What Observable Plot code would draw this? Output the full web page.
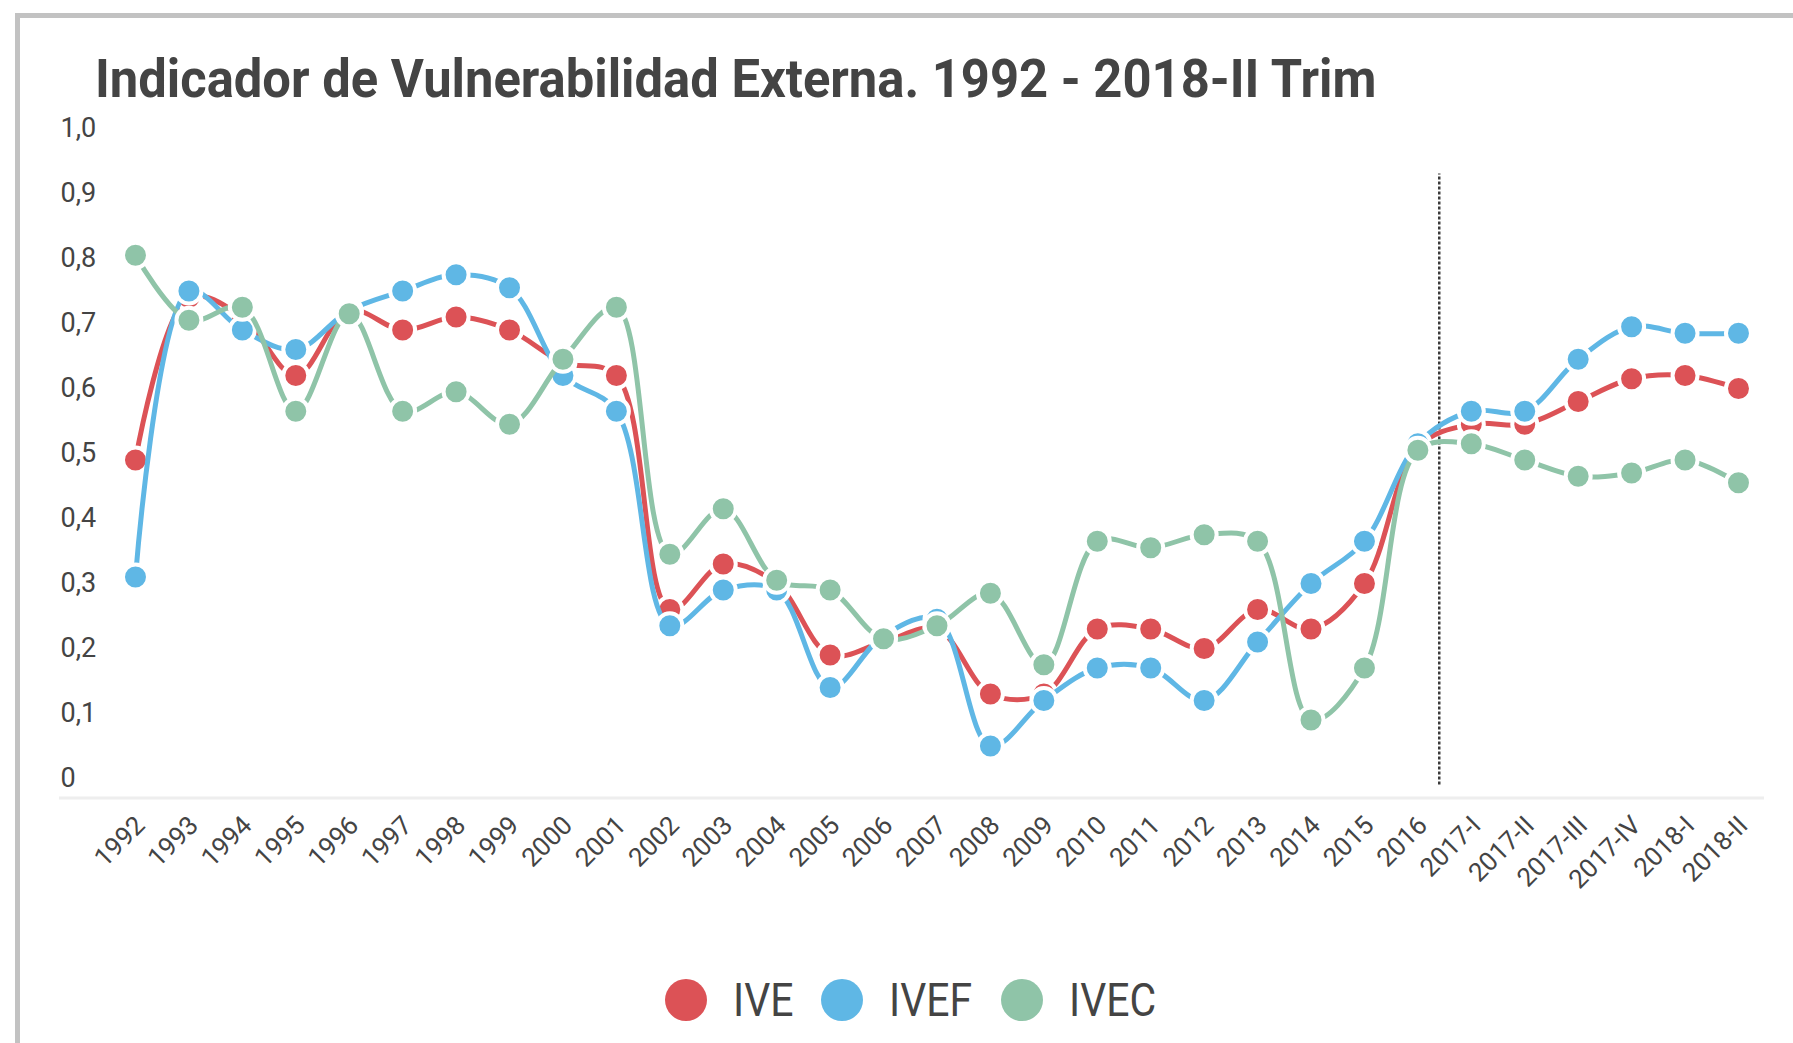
<!DOCTYPE html>
<html>
<head>
<meta charset="utf-8">
<script src="https://cdn.jsdelivr.net/npm/d3@7"></script>
<script src="https://cdn.jsdelivr.net/npm/@observablehq/plot@0.6"></script>
<style>
  html, body { margin: 0; padding: 0; background: #fff; }
  #page { position: relative; width: 1793px; height: 1043px; overflow: hidden; background: #fff; font-family: Roboto, "Noto Sans", sans-serif; }
  #border { position: absolute; left: 15px; top: 13px; right: -20px; bottom: -20px; border-left: 5px solid #c2c2c2; border-top: 5px solid #c2c2c2; }
  #title { position: absolute; left: 95px; top: 53px; font-size: 53px; line-height: 1; font-weight: 700; color: #444; white-space: nowrap; transform: scaleX(0.957); transform-origin: left center; }
  #chart { position: absolute; left: 0; top: 110px; }
  #legend { position: absolute; left: 665px; top: 977px; display: flex; align-items: center; font-size: 46px; color: #444; line-height: 1; }
  .sw { width: 42px; height: 42px; border-radius: 50%; margin-right: 26px; flex: none; }
  .lab { margin-right: 28px; display: inline-block; white-space: nowrap; }
  .lab span { display: inline-block; transform: scaleX(0.89); transform-origin: left center; }
</style>
</head>
<body>
<div id="page">
  <div id="border"></div>
  <div id="title">Indicador de Vulnerabilidad Externa. 1992 - 2018-II Trim</div>
  <div id="chart"></div>
  <div id="legend"></div>
</div>
<script>
// ---- Data ----
const categories = ["1992","1993","1994","1995","1996","1997","1998","1999","2000","2001","2002","2003","2004","2005","2006","2007","2008","2009","2010","2011","2012","2013","2014","2015","2016","2017-I","2017-II","2017-III","2017-IV","2018-I","2018-II"];
const IVE  = [0.49,0.74,0.71,0.62,0.72,0.69,0.71,0.69,0.64,0.62,0.26,0.33,0.30,0.19,0.21,0.23,0.13,0.13,0.23,0.23,0.20,0.26,0.23,0.30,0.51,0.545,0.545,0.58,0.615,0.62,0.60];
const IVEF = [0.31,0.75,0.69,0.66,0.72,0.75,0.775,0.755,0.62,0.565,0.235,0.29,0.29,0.14,0.22,0.245,0.05,0.12,0.17,0.17,0.12,0.21,0.30,0.365,0.515,0.565,0.565,0.645,0.695,0.685,0.685];
const IVEC = [0.805,0.705,0.725,0.565,0.715,0.565,0.595,0.545,0.645,0.725,0.345,0.415,0.305,0.29,0.215,0.235,0.285,0.175,0.365,0.355,0.375,0.365,0.09,0.17,0.505,0.515,0.49,0.465,0.47,0.49,0.455];
const seriesNames = ["IVE","IVEF","IVEC"];
const seriesColors = ["#dc5256","#5fb7e5","#8fc4a8"];
const yTicks = [0,0.1,0.2,0.3,0.4,0.5,0.6,0.7,0.8,0.9,1.0];
const separatorAt = 24.4; // between 2016 and 2017-I

const seriesValues = [IVE, IVEF, IVEC];
const rows = seriesNames.map((name, s) => seriesValues[s].map((v, i) => ({i, v, series: name, cat: categories[i]})));

const yMin = -0.03;
const fmtY = d => d === 0 ? "0" : d.toFixed(1).replace(".", ",");

const marks = [
  Plot.ruleY([yMin], {stroke: "#eeeeee", strokeWidth: 3}),
  Plot.ruleX([separatorAt], {y1: -0.01, y2: 0.93, stroke: "#3a3a3a", strokeWidth: 2.5, strokeDasharray: "3,2"}),
  Plot.axisY(yTicks, {anchor: "left", label: null, tickSize: 0, tickPadding: 0, textAnchor: "start", dx: 1, tickFormat: fmtY, fontSize: 27, fill: "#444"}),
  Plot.axisX(d3.range(categories.length), {anchor: "bottom", label: null, tickSize: 0, tickPadding: 23, dx: 5, tickRotate: -45, textAnchor: "end", lineAnchor: "middle", tickFormat: i => categories[i], fontSize: 26, fill: "#444"})
];
seriesNames.forEach((name, s) => {
  marks.push(Plot.line(rows[s], {x: "i", y: "v", stroke: seriesColors[s], strokeWidth: 5, curve: "catmull-rom"}));
  marks.push(Plot.dot(rows[s], {x: "i", y: "v", r: 12.5, fill: seriesColors[s], stroke: "white", strokeWidth: 4}));
});

const H = 840;
const chart = Plot.plot({
  width: 1793,
  height: H,
  marginLeft: 59,
  marginRight: 29,
  marginTop: 18,
  marginBottom: H - 687.5,
  style: {fontFamily: "Roboto, 'Noto Sans', sans-serif", background: "transparent", overflow: "visible"},
  x: {type: "linear", domain: [-1.422, 30.487], axis: null},
  y: {domain: [yMin, 1.0], axis: null},
  marks
});
document.getElementById("chart").appendChild(chart);

// legend
const legend = document.getElementById("legend");
seriesNames.forEach((name, s) => {
  const sw = document.createElement("div");
  sw.className = "sw";
  sw.style.background = seriesColors[s];
  const lab = document.createElement("div");
  lab.className = "lab";
  const sp = document.createElement("span");
  sp.textContent = name;
  lab.appendChild(sp);
  legend.appendChild(sw);
  legend.appendChild(lab);
  const w = sp.getBoundingClientRect().width;
  lab.style.width = w + "px";
});
</script>
</body>
</html>
